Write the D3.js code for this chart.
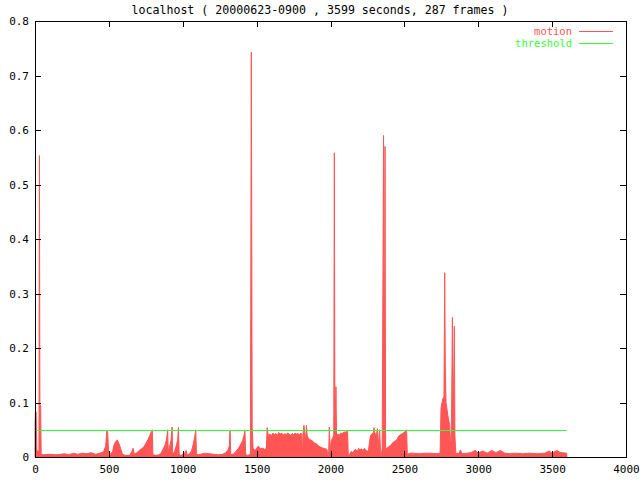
<!DOCTYPE html>
<html>
<head>
<meta charset="utf-8">
<script src="https://cdn.jsdelivr.net/npm/d3@7"></script>
<style>
  html, body { margin: 0; padding: 0; background: #fff; }
  svg { display: block; }
  text { font-family: "DejaVu Sans Mono", "Liberation Mono", monospace; font-size: 11px; }
</style>
</head>
<body>
<script>
// ---- data ----
const titleText = "localhost ( 20000623-0900 , 3599 seconds, 287 frames )";
const xTicks = [0, 500, 1000, 1500, 2000, 2500, 3000, 3500, 4000];
const yTicks = [0, 0.1, 0.2, 0.3, 0.4, 0.5, 0.6, 0.7, 0.8];
const seriesNames = ["motion", "threshold"];
const thresholdValue = 0.05;
const durationSeconds = 3599;
// motion samples: [seconds, value]
const motion = [
  [0,0.06],[3,0.083],[8,0.083],[12,0.01],[18,0.012],[24,0.01],[27,0.012],[30,0.553],[33,0.095],[38,0.095],[42,0.005],
  [60,0.004],[100,0.005],[150,0.004],[200,0.006],[230,0.004],[260,0.007],[290,0.005],[320,0.007],[350,0.006],[380,0.008],
  [410,0.005],[440,0.007],[465,0.01],[478,0.02],[486,0.048],[492,0.045],[498,0.01],[510,0.005],[525,0.01],[535,0.022],
  [545,0.028],[557,0.031],[568,0.025],[580,0.015],[592,0.005],[610,0.003],[640,0.003],[655,0.01],[664,0.016],[672,0.005],
  [690,0.008],[705,0.012],[720,0.015],[735,0.018],[750,0.025],[765,0.032],[778,0.04],[788,0.047],[794,0.05],[798,0.004],
  [820,0.003],[840,0.004],[855,0.008],[868,0.015],[880,0.022],[890,0.032],[898,0.05],[902,0.006],[910,0.018],[920,0.03],
  [928,0.055],[932,0.006],[945,0.01],[955,0.02],[965,0.03],[971,0.054],[976,0.004],[990,0.003],[1005,0.006],[1015,0.008],
  [1023,0.012],[1030,0.004],[1045,0.005],[1060,0.012],[1070,0.022],[1080,0.035],[1088,0.05],[1093,0.004],[1120,0.005],
  [1150,0.007],[1180,0.006],[1210,0.005],[1240,0.004],[1270,0.005],[1290,0.008],[1305,0.012],[1315,0.02],[1320,0.05],
  [1325,0.004],[1345,0.006],[1360,0.01],[1375,0.015],[1390,0.022],[1405,0.03],[1415,0.04],[1421,0.05],[1426,0.004],
  [1440,0.003],[1458,0.005],[1464,0.743],[1470,0.055],[1476,0.016],[1490,0.012],[1500,0.016],[1512,0.02],[1525,0.015],
  [1540,0.016],[1555,0.014],[1566,0.016],[1571,0.054],[1578,0.04],[1590,0.042],[1600,0.039],[1610,0.044],[1620,0.041],
  [1630,0.043],[1640,0.04],[1650,0.045],[1660,0.042],[1670,0.044],[1680,0.04],[1690,0.043],[1700,0.041],[1710,0.044],
  [1720,0.042],[1730,0.04],[1740,0.043],[1750,0.041],[1760,0.044],[1770,0.042],[1780,0.043],[1790,0.041],[1800,0.044],
  [1806,0.042],[1810,0.002],[1815,0.045],[1820,0.058],[1826,0.045],[1833,0.03],[1837,0.058],[1842,0.04],[1848,0.035],
  [1860,0.032],[1875,0.03],[1890,0.026],[1905,0.024],[1920,0.02],[1935,0.018],[1950,0.016],[1965,0.015],[1976,0.014],
  [1982,0.002],[1988,0.01],[1992,0.055],[1997,0.012],[2005,0.03],[2015,0.035],[2022,0.04],[2026,0.558],[2030,0.04],
  [2037,0.129],[2041,0.04],[2050,0.042],[2060,0.04],[2070,0.044],[2080,0.043],[2090,0.046],[2100,0.045],[2110,0.048],
  [2116,0.046],[2120,0.003],[2130,0.005],[2140,0.01],[2150,0.008],[2160,0.012],[2170,0.014],[2180,0.01],[2190,0.016],
  [2200,0.013],[2210,0.015],[2220,0.012],[2230,0.016],[2240,0.012],[2250,0.01],[2258,0.014],[2265,0.03],[2272,0.04],
  [2280,0.042],[2290,0.045],[2295,0.054],[2300,0.044],[2310,0.04],[2318,0.052],[2325,0.02],[2333,0.05],[2338,0.01],
  [2342,0.002],[2350,0.015],[2359,0.59],[2364,0.02],[2369,0.57],[2373,0.015],[2380,0.016],[2390,0.018],[2400,0.02],
  [2410,0.022],[2420,0.026],[2430,0.028],[2440,0.03],[2450,0.032],[2460,0.038],[2470,0.04],[2480,0.042],[2490,0.043],
  [2500,0.046],[2508,0.048],[2515,0.05],[2520,0.005],[2540,0.007],[2560,0.007],[2600,0.006],[2640,0.007],[2680,0.007],
  [2720,0.006],[2742,0.007],[2748,0.09],[2755,0.1],[2762,0.108],[2768,0.11],[2773,0.338],[2777,0.169],[2782,0.1],
  [2790,0.085],[2798,0.07],[2806,0.06],[2812,0.03],[2818,0.028],[2825,0.256],[2830,0.05],[2838,0.24],[2842,0.04],
  [2848,0.006],[2870,0.007],[2880,0.013],[2890,0.006],[2920,0.007],[2950,0.008],[2980,0.012],[3000,0.007],[3030,0.011],
  [3060,0.007],[3090,0.012],[3120,0.008],[3150,0.012],[3180,0.007],[3210,0.006],[3250,0.007],[3300,0.006],[3350,0.007],
  [3400,0.006],[3450,0.007],[3480,0.011],[3500,0.007],[3530,0.012],[3560,0.008],[3599,0.007]
];
const threshold = [[0, thresholdValue], [durationSeconds, thresholdValue]];

// ---- layout ----
const W = 640, H = 480;
const plotLeft = 35, plotRight = 626, plotTop = 21, plotBottom = 457;
const red = "#ff5555", green = "#33ff33";

const svg = d3.select("body").append("svg").attr("width", W).attr("height", H);

const x = d3.scaleLinear().domain([0, 4000]).range([plotLeft, plotRight]);
const y = d3.scaleLinear().domain([0, 0.8]).range([plotBottom, plotTop]);

// motion
const area = d3.area().x(d => x(d[0])).y0(y(0)).y1(d => y(d[1]));
svg.append("path").datum(motion)
  .attr("d", area).attr("fill", red).attr("stroke", red).attr("stroke-width", 1);

// threshold
const yThr = d => Math.round(y(d[1])) + 0.5;
const line = d3.line().x(d => x(d[0])).y(yThr);
svg.append("path").datum(threshold)
  .attr("d", line).attr("fill", "none").attr("stroke", green).attr("stroke-width", 1);

// axes
const yFmt = d => d === 0 ? "0" : d.toFixed(1);
function styleAxis(g) {
  g.select(".domain").remove();
  g.selectAll(".tick line").attr("stroke", "#000").attr("shape-rendering", "crispEdges");
  g.selectAll("text").attr("fill", "#000")
    .style("font-family", '"DejaVu Sans Mono", monospace').style("font-size", "11px");
}
svg.append("g").attr("transform", `translate(0,${plotBottom})`)
  .call(d3.axisBottom(x).tickValues(xTicks).tickFormat(d3.format("d")).tickSize(-6).tickPadding(8))
  .call(styleAxis);
svg.append("g").attr("transform", `translate(0,${plotTop})`)
  .call(d3.axisTop(x).tickValues(xTicks).tickFormat("").tickSize(-6))
  .call(styleAxis);
svg.append("g").attr("transform", `translate(${plotLeft},0)`)
  .call(d3.axisLeft(y).tickValues(yTicks).tickFormat(yFmt).tickSize(-6).tickPadding(6))
  .call(styleAxis);
svg.append("g").attr("transform", `translate(${plotRight},0)`)
  .call(d3.axisRight(y).tickValues(yTicks).tickFormat("").tickSize(-6))
  .call(styleAxis);

svg.append("rect")
  .attr("x", plotLeft + 0.5).attr("y", plotTop + 0.5)
  .attr("width", plotRight - plotLeft).attr("height", plotBottom - plotTop)
  .attr("fill", "none").attr("stroke", "#000").attr("stroke-width", 1);

// title
svg.append("text").attr("x", W / 2).attr("y", 14).attr("text-anchor", "middle")
  .style("font-size", "11.6px").attr("fill", "#000").text(titleText);

// legend
const legendColors = [red, green];
seriesNames.forEach((name, i) => {
  const ly = 31 + i * 12;
  svg.append("text").attr("x", 572).attr("y", ly + 3.5).attr("text-anchor", "end")
    .style("font-size", "10.5px").attr("fill", legendColors[i]).text(name);
  svg.append("line").attr("x1", 579).attr("x2", 613).attr("y1", ly + 0.5).attr("y2", ly + 0.5)
    .attr("stroke", legendColors[i]).attr("stroke-width", 1);
});
</script>
</body>
</html>
